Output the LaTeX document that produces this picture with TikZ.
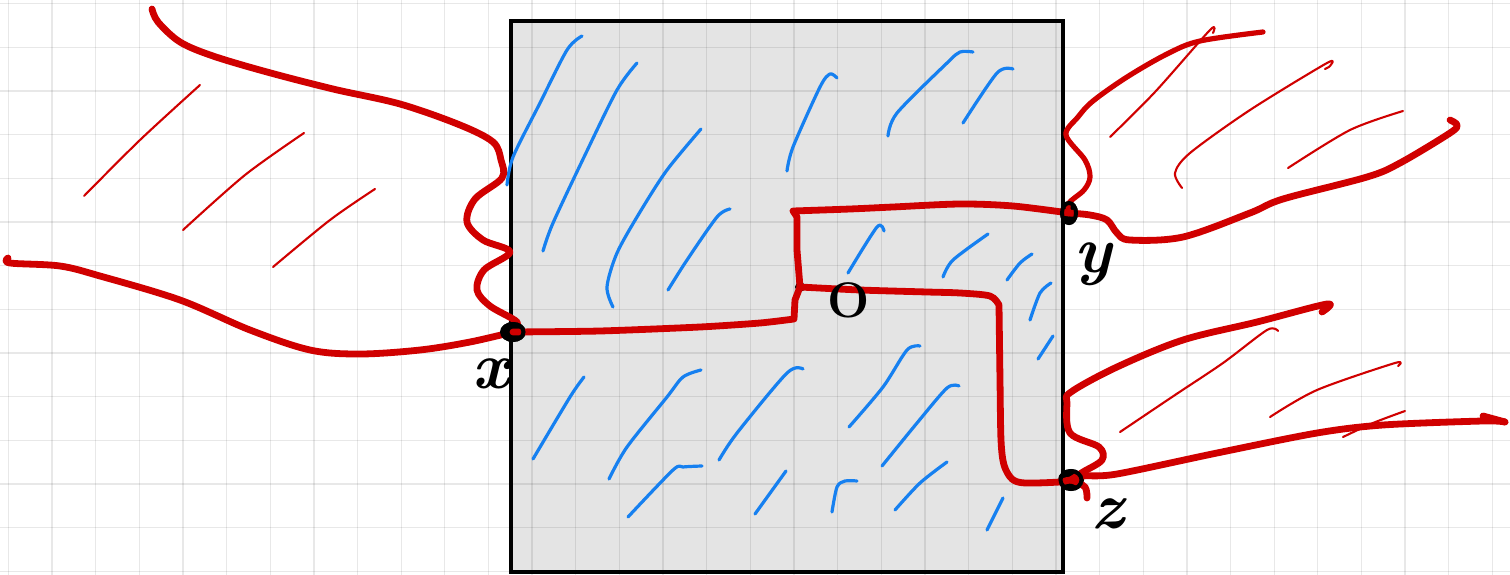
\documentclass[tikz,border=0pt]{standalone}
\definecolor{redink}{RGB}{208,0,0}
\definecolor{blueink}{RGB}{22,128,240}
\definecolor{boxfill}{RGB}{228,228,228}
\begin{document}
\begin{tikzpicture}[x=1pt,y=-1pt,
  gridline/.style={draw=black,opacity=0.09,line width=1.3pt},
  thickred/.style={draw=redink,line width=6.8pt,line cap=round,line join=round},
  midred/.style={draw=redink,line width=5.2pt,line cap=round,line join=round},
  thinred/.style={draw=redink,line width=2.1pt,line cap=round,line join=round},
  hatch/.style={draw=blueink,line width=3.2pt,line cap=round,line join=round},
  blob/.style={circle,inner sep=0pt,minimum size=22pt},
  smalldot/.style={circle,inner sep=0pt,minimum size=10pt},
  lbl/.style={font=\fontsize{66}{66}\selectfont\bfseries\itshape,inner sep=0pt},
  olbl/.style={font=\fontsize{50}{50}\selectfont\bfseries,inner sep=0pt}]
\useasboundingbox (0,0) rectangle (1510,575);
\fill[white] (0,0) rectangle (1510,575);
\fill[boxfill] (511,21) rectangle (1063,572);
\foreach \i in {0,...,34} \draw[gridline] ({8.3+43.65*\i},0) -- ({8.3+43.65*\i},575);
\foreach \j in {0,...,13} \draw[gridline] (0,{3.8+43.65*\j}) -- (1510,{3.8+43.65*\j});
\draw[line width=4pt] (511,21) rectangle (1063,572);

% blue hatching inside the box
\draw[hatch] plot[smooth] coordinates {(507,185) (513,157) (540,103) (567,50) (582,36)};
\draw[hatch] plot[smooth] coordinates {(543,251) (553,223) (585,155) (617,90) (637,63)};
\draw[hatch] plot[smooth] coordinates {(613,307) (607,287) (617,253) (640,212) (667,170) (701,129)};
\draw[hatch] plot[smooth] coordinates {(668,290) (687,260) (717,217) (730,209)};
\draw[hatch] plot[smooth] coordinates {(787,171) (793,147) (820,87) (830,74) (837,78)};
\draw[hatch] plot[smooth] coordinates {(888,136) (897,113) (947,63) (960,52) (973,52)};
\draw[hatch] plot[smooth] coordinates {(963,123) (997,73) (1013,69)};
\draw[hatch] plot[smooth] coordinates {(848,273) (877,227) (884,231)};
\draw[hatch] plot[smooth] coordinates {(943,277) (953,260) (988,234)};
\draw[hatch] plot[smooth] coordinates {(1007,280) (1020,263) (1032,254)};
\draw[hatch] plot[smooth] coordinates {(1030,320) (1040,293) (1051,283)};
\draw[hatch] (1038,359) -- (1053,336);
\draw[hatch] plot[smooth] coordinates {(533,459) (570,397) (584,377)};
\draw[hatch] plot[smooth] coordinates {(609,479) (627,447) (667,397) (683,377) (701,370)};
\draw[hatch] plot[smooth] coordinates {(628,517) (673,470) (683,467) (702,466)};
\draw[hatch] plot[smooth] coordinates {(719,460) (737,433) (787,373) (803,369)};
\draw[hatch] (755,514) -- (786,471);
\draw[hatch] plot[smooth] coordinates {(849,427) (883,387) (907,350) (920,346)};
\draw[hatch] plot[smooth] coordinates {(882,466) (917,423) (947,388) (959,386)};
\draw[hatch] plot[smooth] coordinates {(832,512) (837,487) (845,481) (857,481)};
\draw[hatch] plot[smooth] coordinates {(895,510) (920,483) (947,462)};
\draw[hatch] (987,530) -- (1003,498);

% nodes
\node[blob] (x) at (513,332) {};
\node[blob] (y) at (1069,213) {};
\node[blob] (z) at (1071,480) {};
\node[smalldot] (o) at (800,287) {};
\coordinate (lt) at (152,9);
\coordinate (lb) at (8,258);
\coordinate (rt1) at (1263,32);
\coordinate (rt2) at (1450,120);
\coordinate (rb1) at (1322,312);
\coordinate (rb2) at (1505,422);

% left boundary curves and hatching
\draw[thickred] plot[smooth,tension=0.55] coordinates {(lt) (158,22) (180,42) (213,56) (267,72) (333,89) (400,104) (460,125) (493,142) (501,160) (502,178) (475,199) (467,222) (483,240) (510,252) (484,270) (477,290) (490,306) (517,322) (x.center)};
\draw[thickred] plot[smooth,tension=0.55] coordinates {(lb) (10,263) (60,266) (100,276) (180,300) (250,330) (310,350) (360,354) (420,350) (470,342) (x.center)};
\draw[thinred] plot[smooth] coordinates {(84,196) (140,140) (200,85)};
\draw[thinred] plot[smooth] coordinates {(183,230) (245,175) (304,133)};
\draw[thinred] plot[smooth] coordinates {(273,267) (330,220) (375,189)};

% black node dots
\fill[black] (x.center) ellipse (13pt and 10pt);
\fill[black] (y.center) ellipse (9pt and 12pt);
\fill[black] (z.center) ellipse (13pt and 11pt);
\fill[black] (o.center) circle (5pt);

% path through the box
\draw[thickred] plot[smooth,tension=0.4] coordinates {(x.center) (600,331) (700,327) (760,323) (794,319)} -- (795,300) -- (o.center);
\draw[thickred] (o.center) -- (797,250) -- (797,217) -- (793,211) plot[smooth,tension=0.5] coordinates {(793,211) (850,209) (893,207) (960,204) (1013,206) (y.center)};
\draw[thickred] plot[smooth,tension=0.5] coordinates {(o.center) (860,290) (927,292) (960,293) (990,296) (999,305)} plot[smooth,tension=0.5] coordinates {(999,305) (1000,380) (1001,440) (1004,465) (1012,479) (1025,483) (1060,482) (z.center) (1085,487) (1087,498)};

% right upper curves
\draw[midred] plot[smooth,tension=0.55] coordinates {(y.center) (1069,203) (1084,190) (1090,177) (1085,160) (1066,135) (1078,117) (1093,101) (1127,77) (1167,54) (1200,41) (rt1)};
\draw[thickred] plot[smooth,tension=0.55] coordinates {(y.center) (1090,215) (1107,220) (1117,233) (1130,240) (1183,237) (1250,213) (1283,199) (1367,177) (1400,163) (1450,133) (1457,125) (rt2)};
\draw[thinred] plot[smooth] coordinates {(1110,137) (1155,92) (1210,30) (1213,33)};
\draw[thinred] plot[smooth] coordinates {(1182,188) (1175,173) (1190,153) (1250,110) (1327,63) (1330,66) (1325,69)};
\draw[thinred] plot[smooth] coordinates {(1288,168) (1350,130) (1403,111)};

% right lower curves
\draw[thickred] plot[smooth,tension=0.55] coordinates {(z.center) (1083,472) (1102,460) (1099,447) (1070,433) (1067,403) (1071,392) (1117,367) (1183,340) (1257,322) (1327,304) (rb1)};
\draw[thickred] plot[smooth,tension=0.5] coordinates {(z.center) (1083,476) (1117,474) (1217,453) (1317,433) (1383,425) (1483,421) (rb2)};
\draw[thickred] (1483,416) -- (rb2);
\draw[thinred] plot[smooth] coordinates {(1120,432) (1175,395) (1223,363) (1267,330) (1278,331)};
\draw[thinred] plot[smooth] coordinates {(1270,417) (1317,390) (1395,363) (1398,366)};
\draw[thinred] plot[smooth] coordinates {(1343,437) (1373,423) (1405,411)};

% outline of the node dots on top
\draw[black,line width=4pt] (x.center) ellipse (10.5pt and 8pt);
\draw[black,line width=4pt] (y.center) ellipse (7pt and 10pt);
\draw[black,line width=4pt] (z.center) ellipse (10.5pt and 9pt);

% labels
\node[lbl] (xl) at (491,374) {x};
\node[lbl] (yl) at (1093,264) {y};
\node[lbl] (zl) at (1108,514) {z};
\node[olbl] (ol) at (849,300) {O};
\end{tikzpicture}
\end{document}
